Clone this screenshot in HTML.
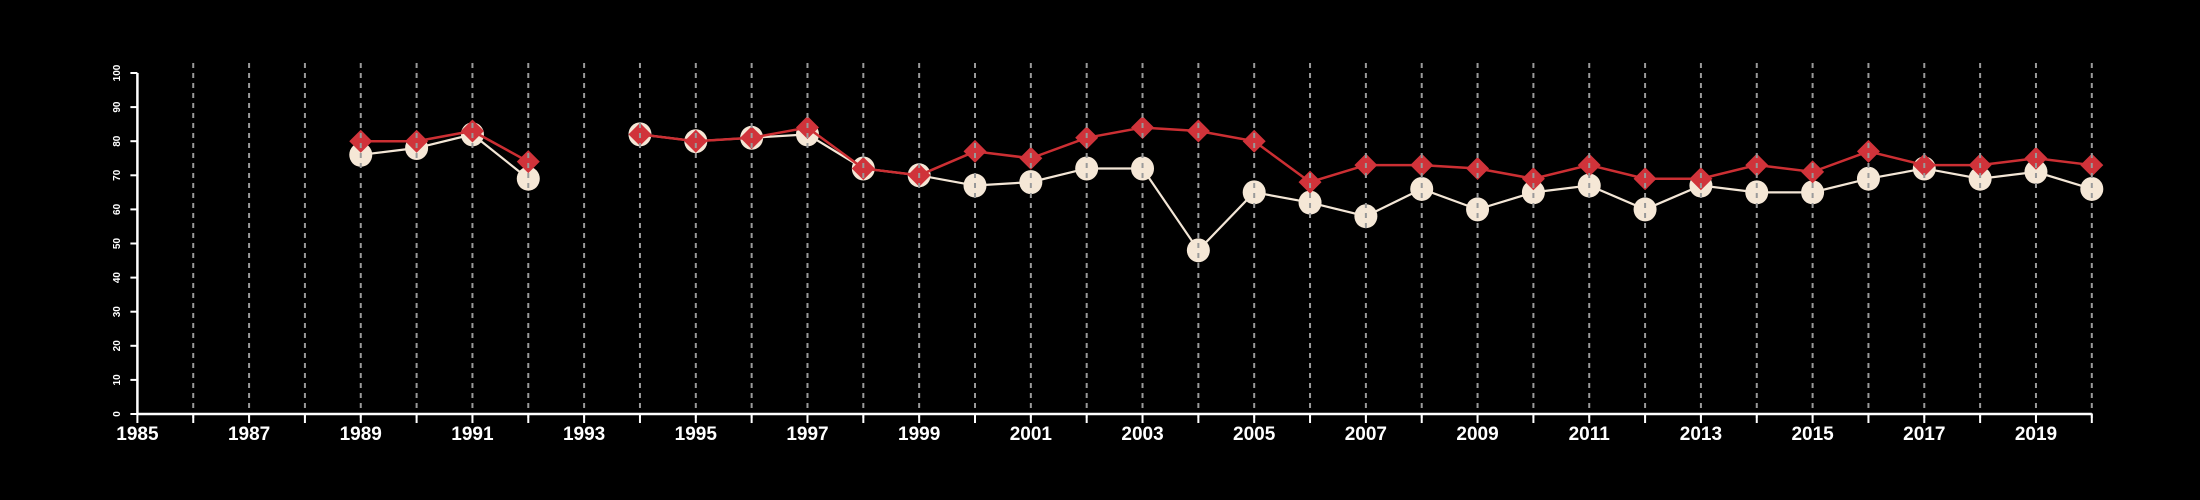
<!DOCTYPE html>
<html><head><meta charset="utf-8"><style>
html,body{margin:0;padding:0;background:#000;}
svg{display:block;}
text{font-family:"Liberation Sans",sans-serif;fill:#fff;font-weight:bold;}
</style></head><body>
<svg id="chart" width="2200" height="500" xmlns="http://www.w3.org/2000/svg">
<rect width="2200" height="500" fill="#000"/>
<g id="marks"></g><g id="grid"></g><g id="axes"></g>
</svg>
<script>
const years = [1989,1990,1991,1992,1993,1994,1995,1996,1997,1998,1999,2000,2001,2002,2003,2004,2005,2006,2007,2008,2009,2010,2011,2012,2013,2014,2015,2016,2017,2018,2019,2020];
const seriesWhite = [76,78,82,69,null,82,80,81,82,72,70,67,68,72,72,48,65,62,58,66,60,65,67,60,67,65,65,69,72,69,71,66];
const seriesRed = [80,80,83,74,null,82,80,81,84,72,70,77,75,81,84,83,80,68,73,73,72,69,73,69,69,73,71,77,73,73,75,73];
const yTicks = [0,10,20,30,40,50,60,70,80,90,100];
const xTickYears = [1985,1986,1987,1988,1989,1990,1991,1992,1993,1994,1995,1996,1997,1998,1999,2000,2001,2002,2003,2004,2005,2006,2007,2008,2009,2010,2011,2012,2013,2014,2015,2016,2017,2018,2019,2020];
const xLabels = ["1985","1987","1989","1991","1993","1995","1997","1999","2001","2003","2005","2007","2009","2011","2013","2015","2017","2019"];

const NS="http://www.w3.org/2000/svg";
const x0=137.4, pxYear=55.84, yBase=414, yTop=73;
function xs(v){return x0+(v-1985)*pxYear;}
function ys(v){return yBase-(v/100)*(yBase-yTop);}
function mk(tag,attrs,parent){const e=document.createElementNS(NS,tag);for(const k in attrs)e.setAttribute(k,attrs[k]);parent.appendChild(e);return e;}
const marks=document.getElementById('marks'),grid=document.getElementById('grid'),axes=document.getElementById('axes');

function segs(vals){const out=[];let cur=[];vals.forEach((v,i)=>{if(v==null){if(cur.length)out.push(cur);cur=[];}else cur.push([xs(years[i]),ys(v)]);});if(cur.length)out.push(cur);return out;}

segs(seriesWhite).forEach(s=>{
  const p=mk('polyline',{points:s.map(q=>q.join(',')).join(' '),fill:'none',stroke:'#f3e6d6','stroke-width':2.2},marks);
  
  
});
seriesWhite.forEach((v,i)=>{if(v==null)return;
  const c=mk('ellipse',{cx:xs(years[i]),cy:ys(v),rx:11.5,ry:12,fill:'#f5e7d6'},marks);
  
  
});
segs(seriesRed).forEach(s=>{
  const p=mk('polyline',{points:s.map(q=>q.join(',')).join(' '),fill:'none',stroke:'#cc2f33','stroke-width':2.5},marks);
  
  
});
seriesRed.forEach((v,i)=>{if(v==null)return;
  const x=xs(years[i]),y=ys(v),d=11.5;
  const p=mk('polygon',{points:`${x},${y-d} ${x+d},${y} ${x},${y+d} ${x-d},${y}`,fill:'#d0333a'},marks);
  
  
});
xTickYears.forEach(yr=>{if(yr===1985)return;
  const l=mk('line',{x1:xs(yr),x2:xs(yr),y1:63,y2:423,stroke:'#9a9a9a','stroke-width':2,'stroke-dasharray':'5,5'},grid);
  
  
});
const xa=mk('line',{x1:xs(1985),x2:xs(2020),y1:yBase,y2:yBase,stroke:'#fff','stroke-width':2.5},axes);


const ya=mk('line',{x1:x0,x2:x0,y1:yTop,y2:yBase,stroke:'#fff','stroke-width':2.5},axes);


xTickYears.forEach(yr=>{
  const t=mk('line',{x1:xs(yr),x2:xs(yr),y1:yBase,y2:yBase+9,stroke:'#fff','stroke-width':2},axes);
  
  
});
xLabels.forEach(lb=>{
  const t=mk('text',{x:xs(+lb),y:440,'text-anchor':'middle','font-size':19},axes);
  t.textContent=lb;
  
  
});
yTicks.forEach(v=>{
  const t=mk('line',{x1:x0-7,x2:x0,y1:ys(v),y2:ys(v),stroke:'#fff','stroke-width':2},axes);
  
  
  const tx=mk('text',{x:0,y:0,'text-anchor':'middle','font-size':10,transform:`translate(120,${ys(v)}) rotate(-90)`},axes);
  tx.textContent=String(v);
  
  
});
</script>
</body></html>
